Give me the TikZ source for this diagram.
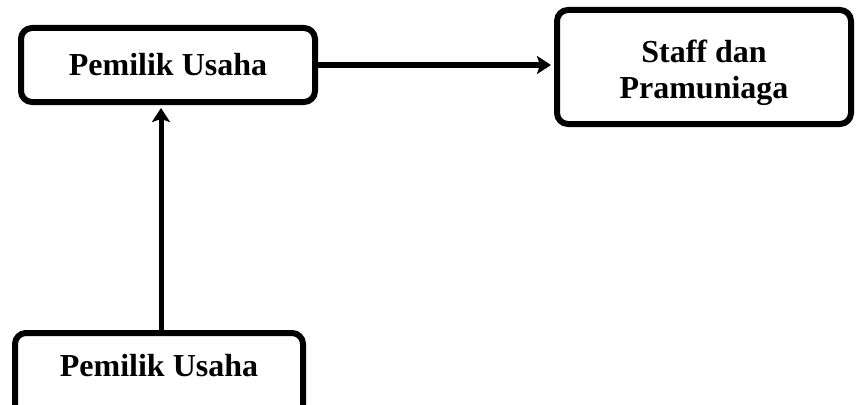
\documentclass[tikz,border=0pt]{standalone}
\usepackage{fontspec}
\setmainfont{Liberation Serif}
\usetikzlibrary{arrows.meta}
\begin{document}
\begin{tikzpicture}[x=1pt,y=-1pt,
  box/.style={draw=black, line width=6pt, rounded corners=11pt, inner sep=0pt,
    font=\fontsize{32}{36}\selectfont\bfseries, align=center},
  conn/.style={line width=5pt, -{Stealth[length=14pt,width=18pt,inset=3pt]}, shorten >=3pt}]
\useasboundingbox (0,0) rectangle (856,404);
\node[box, minimum width=294pt, minimum height=74pt] (b1) at (168,65) {Pemilik Usaha};
\node[box, minimum width=294pt, minimum height=114pt] (b2) at (704,67) {\rule{0pt}{34pt}Staff dan\\Pramuniaga};
\node[box, minimum width=288pt, text height=43pt, text depth=54pt, anchor=base] (b3) at (159,376) {Pemilik Usaha};
\draw[conn] (b1.east) -- (b1.east -| b2.west);
\draw[conn] (b3.north) ++(2pt,0) coordinate (b3top) -- (b3top |- b1.south);
\end{tikzpicture}
\end{document}
